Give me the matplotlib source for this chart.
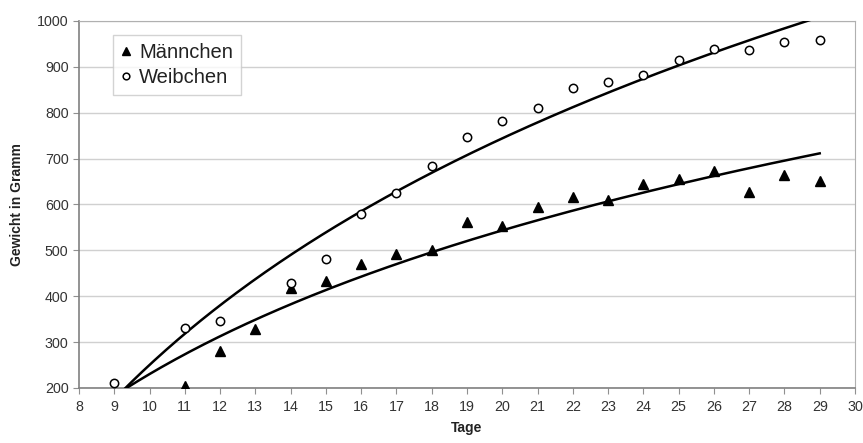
import numpy as np
import matplotlib
matplotlib.use("Agg")
import matplotlib.pyplot as plt

plt.rcParams['font.family'] = ['Liberation Sans', 'DejaVu Sans']

days_m = [11, 12, 13, 14, 15, 16, 17, 18, 19, 20, 21, 22, 23, 24, 25, 26, 27, 28, 29]
weight_m = [205, 281, 328, 418, 434, 471, 492, 500, 561, 554, 595, 617, 610, 644, 655, 672, 628, 665, 651]
days_w = [9, 11, 12, 14, 15, 16, 17, 18, 19, 20, 21, 22, 23, 24, 25, 26, 27, 28, 29]
weight_w = [211, 330, 345, 428, 481, 579, 626, 684, 747, 781, 810, 853, 868, 882, 915, 940, 937, 955, 959]
label_m = "Männchen"
label_w = "Weibchen"
x_label = "Tage"
y_label = "Gewicht in Gramm"

fig = plt.figure(figsize=(8.63, 4.43), dpi=100)
ax = fig.add_axes([0.0915, 0.1242, 0.8992, 0.8284])

# logarithmic trendlines (least squares on ln(x))
xs = np.linspace(9, 29, 300)
for dx, wy in ((days_m, weight_m), (days_w, weight_w)):
    a, b = np.polyfit(np.log(dx), wy, 1)
    ax.plot(xs, a * np.log(xs) + b, color='black', lw=1.8, zorder=3)

ax.plot(days_m, weight_m, linestyle='none', marker='^', color='black', ms=6.5, label=label_m, zorder=4)
ax.plot(days_w, weight_w, linestyle='none', marker='o', mfc='white', mec='black', mew=1.1, ms=6, label=label_w, zorder=4)

ax.set_xlim(8, 30)
ax.set_ylim(200, 1000)
ax.set_xticks(range(8, 31))
ax.set_yticks(range(200, 1001, 100))
ax.grid(axis='y', color='#d0d0d0', lw=1)
ax.set_axisbelow(True)
for s in ['top', 'right']:
    ax.spines[s].set_color('#b0b0b0')
for s in ['left', 'bottom']:
    ax.spines[s].set_color('#808080')
    ax.spines[s].set_linewidth(1.2)
ax.tick_params(axis='both', labelsize=10.3, colors='#909090', labelcolor='#333333', length=4)
ax.tick_params(axis='x', pad=5)

ax.set_xlabel(x_label, fontsize=10, fontweight='bold', labelpad=5, color='#222222')
ax.set_ylabel(y_label, fontsize=10, fontweight='bold', labelpad=9, color='#222222')

leg = ax.legend(loc='upper left', bbox_to_anchor=(0.044, 0.962), fontsize=14.5, frameon=True,
                fancybox=False, edgecolor='#c8c8c8', handlelength=0.5, handletextpad=0.4,
                borderpad=0.4, labelspacing=0.3, borderaxespad=0, markerscale=0.8)
leg.get_frame().set_linewidth(1)
for t in leg.get_texts():
    t.set_color('#222222')

fig.savefig('out.png', dpi=100)
